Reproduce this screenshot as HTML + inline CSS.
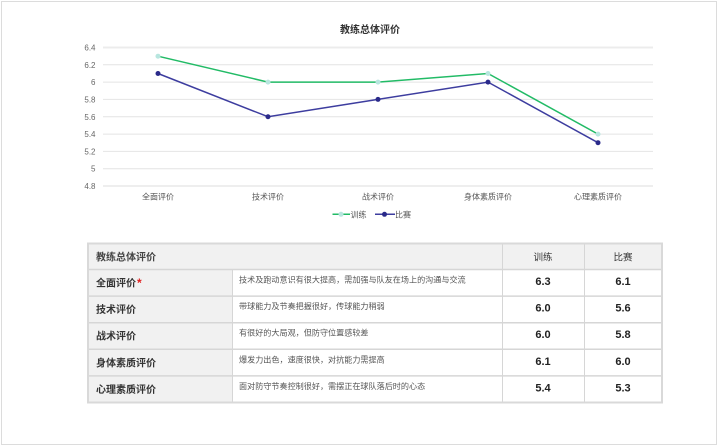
<!DOCTYPE html>
<html>
<head>
<meta charset="utf-8">
<style>
  html,body{margin:0;padding:0;background:#fff;}
  svg{display:block;}
  text{font-family:"Liberation Sans","Noto Sans CJK SC",sans-serif;}
</style>
</head>
<body>
<svg width="720" height="446" viewBox="0 0 720 446" xmlns="http://www.w3.org/2000/svg">
  <rect x="0" y="0" width="720" height="446" fill="#fff"/>
  <rect x="1.5" y="1.5" width="715" height="443" fill="none" stroke="#dcdcdc" stroke-width="1"/>

  <!-- Title -->
  <text x="370" y="33" font-size="10" font-weight="bold" fill="#333" text-anchor="middle">教练总体评价</text>

  <!-- Grid -->
  <g stroke="#e4e4e4" stroke-width="1">
    <line x1="103" y1="47.5" x2="653" y2="47.5" stroke="#ececec" stroke-width="2"/>
    <line x1="103" y1="64.8" x2="653" y2="64.8"/>
    <line x1="103" y1="82.1" x2="653" y2="82.1"/>
    <line x1="103" y1="99.4" x2="653" y2="99.4"/>
    <line x1="103" y1="116.75" x2="653" y2="116.75"/>
    <line x1="103" y1="134.1" x2="653" y2="134.1"/>
    <line x1="103" y1="151.4" x2="653" y2="151.4"/>
    <line x1="103" y1="168.7" x2="653" y2="168.7"/>
    <line x1="103" y1="186" x2="653" y2="186" stroke="#dedede"/>
  </g>

  <!-- Y labels -->
  <g font-size="8" fill="#666" text-anchor="end">
    <text x="95.5" y="50.5">6.4</text>
    <text x="95.5" y="67.8">6.2</text>
    <text x="95.5" y="85.1">6</text>
    <text x="95.5" y="102.4">5.8</text>
    <text x="95.5" y="119.75">5.6</text>
    <text x="95.5" y="137.1">5.4</text>
    <text x="95.5" y="154.4">5.2</text>
    <text x="95.5" y="171.7">5</text>
    <text x="95.5" y="189">4.8</text>
  </g>

  <!-- X labels -->
  <g font-size="8" fill="#555" text-anchor="middle">
    <text x="158" y="199.5">全面评价</text>
    <text x="268" y="199.5">技术评价</text>
    <text x="378" y="199.5">战术评价</text>
    <text x="488" y="199.5">身体素质评价</text>
    <text x="598" y="199.5">心理素质评价</text>
  </g>

  <!-- Series: 训练 -->
  <polyline points="158,56.2 268,82.1 378,82.1 488,73.5 598,134.1" fill="none" stroke="#22bb66" stroke-width="1.5"/>
  <g fill="#b8e6df">
    <circle cx="158" cy="56.2" r="2.5"/>
    <circle cx="268" cy="82.1" r="2.5"/>
    <circle cx="378" cy="82.1" r="2.5"/>
    <circle cx="488" cy="73.5" r="2.5"/>
    <circle cx="598" cy="134.1" r="2.5"/>
  </g>

  <!-- Series: 比赛 -->
  <polyline points="158,73.5 268,116.75 378,99.4 488,82.1 598,142.7" fill="none" stroke="#3d3d9f" stroke-width="1.5"/>
  <g fill="#2a2a8a">
    <circle cx="158" cy="73.5" r="2.5"/>
    <circle cx="268" cy="116.75" r="2.5"/>
    <circle cx="378" cy="99.4" r="2.5"/>
    <circle cx="488" cy="82.1" r="2.5"/>
    <circle cx="598" cy="142.7" r="2.5"/>
  </g>

  <!-- Legend -->
  <line x1="332.5" y1="214.3" x2="350" y2="214.3" stroke="#22bb66" stroke-width="1.5"/>
  <circle cx="341" cy="214.3" r="2.5" fill="#b8e6df"/>
  <text x="350.5" y="217.3" font-size="8" fill="#555">训练</text>
  <line x1="375" y1="214.3" x2="395" y2="214.3" stroke="#3d3d9f" stroke-width="1.5"/>
  <circle cx="384.5" cy="214.3" r="2.5" fill="#2a2a8a"/>
  <text x="395" y="217.3" font-size="8" fill="#555">比赛</text>

  <!-- Table backgrounds -->
  <rect x="88" y="243.5" width="574" height="26" fill="#f1f1f1"/>
  <rect x="88" y="269.5" width="144" height="133" fill="#f1f1f1"/>

  <!-- Table grid -->
  <g stroke="#d6d6d6" stroke-width="1">
    <line x1="88" y1="269.5" x2="662" y2="269.5" stroke-width="1.5"/>
    <line x1="88" y1="296.1" x2="662" y2="296.1" stroke-width="1.5"/>
    <line x1="88" y1="322.7" x2="662" y2="322.7" stroke-width="1.5"/>
    <line x1="88" y1="349.3" x2="662" y2="349.3" stroke-width="1.5"/>
    <line x1="88" y1="375.9" x2="662" y2="375.9" stroke-width="1.5"/>
    <line x1="232.5" y1="269.5" x2="232.5" y2="402.5"/>
    <line x1="502.5" y1="243.5" x2="502.5" y2="402.5"/>
    <line x1="584.5" y1="243.5" x2="584.5" y2="402.5"/>
  </g>
  <rect x="88" y="243.5" width="574" height="159" fill="none" stroke="#d9d9d9" stroke-width="2"/>

  <!-- Header text -->
  <text x="96" y="260.5" font-size="10" font-weight="bold" fill="#444">教练总体评价</text>
  <text x="543" y="260.5" font-size="9.5" fill="#333" text-anchor="middle">训练</text>
  <text x="623" y="260.5" font-size="9.5" fill="#333" text-anchor="middle">比赛</text>

  <!-- Row labels -->
  <g font-size="10" font-weight="bold" fill="#333">
    <text x="96" y="286.5">全面评价</text>
    <text x="96" y="313.1">技术评价</text>
    <text x="96" y="339.7">战术评价</text>
    <text x="96" y="366.3">身体素质评价</text>
    <text x="96" y="392.9">心理素质评价</text>
  </g>
  <text x="137" y="287" font-size="12" font-weight="bold" fill="#e02020">*</text>

  <!-- Descriptions -->
  <g font-size="8.1" fill="#555">
    <text x="239" y="282.5">技术及跑动意识有很大提高，需加强与队友在场上的沟通与交流</text>
    <text x="239" y="309.1">带球能力及节奏把握很好，传球能力稍弱</text>
    <text x="239" y="335.7">有很好的大局观，但防守位置感较差</text>
    <text x="239" y="362.3">爆发力出色，速度很快，对抗能力需提高</text>
    <text x="239" y="388.9">面对防守节奏控制很好，需摆正在球队落后时的心态</text>
  </g>

  <!-- Numbers -->
  <g font-size="11" font-weight="bold" fill="#222" text-anchor="middle">
    <text x="543" y="285">6.3</text>
    <text x="623" y="285">6.1</text>
    <text x="543" y="311.6">6.0</text>
    <text x="623" y="311.6">5.6</text>
    <text x="543" y="338.2">6.0</text>
    <text x="623" y="338.2">5.8</text>
    <text x="543" y="364.8">6.1</text>
    <text x="623" y="364.8">6.0</text>
    <text x="543" y="391.4">5.4</text>
    <text x="623" y="391.4">5.3</text>
  </g>
</svg>
</body>
</html>
